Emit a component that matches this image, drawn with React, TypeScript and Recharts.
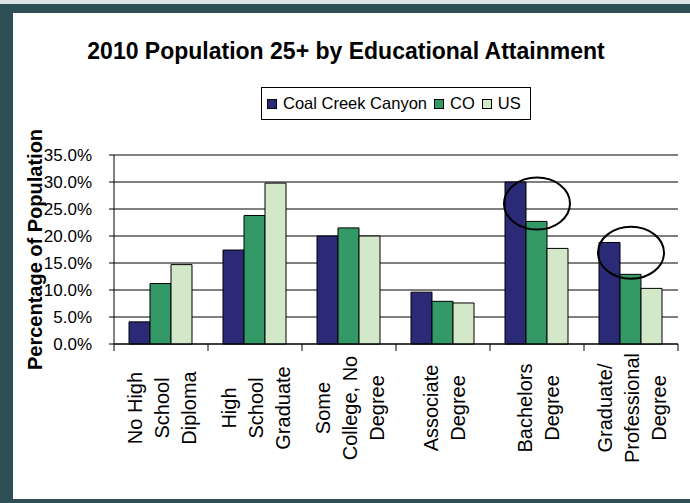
import React from 'react'
import { BarChart, Bar, XAxis, YAxis, CartesianGrid, Legend, ReferenceDot } from 'recharts'

const FONT = "'Liberation Sans', Arial, sans-serif"

const categories = [
  'No High School Diploma',
  'High School Graduate',
  'Some College, No Degree',
  'Associate Degree',
  'Bachelors Degree',
  'Graduate/ Professional Degree',
]
const categoryLines = [
  ['No High', 'School', 'Diploma'],
  ['High', 'School', 'Graduate'],
  ['Some', 'College, No', 'Degree'],
  ['Associate', 'Degree'],
  ['Bachelors', 'Degree'],
  ['Graduate/', 'Professional', 'Degree'],
]
const seriesNames = ['Coal Creek Canyon', 'CO', 'US']
const coalCreek = [4.1, 17.4, 20.0, 9.6, 30.0, 18.8]
const colorado = [11.2, 23.8, 21.5, 7.9, 22.7, 12.9]
const us = [14.7, 29.8, 20.0, 7.6, 17.7, 10.3]
const yTicks = [0, 5, 10, 15, 20, 25, 30, 35]
// circled bars
const highlightCategories = ['Bachelors Degree', 'Graduate/ Professional Degree']
const highlightValues = [26.0, 16.9]

const COLORS = ['#2a2a76', '#339966', '#d3e8c8']

function CategoryTick(props: any) {
  const { x, y, payload, index } = props
  const i = index ?? payload.index
  const half = payload?.offset || 47
  const lines = categoryLines[i] || [payload.value]
  const n = lines.length
  return (
    <g>
      <line x1={x - half} x2={x - half} y1={y} y2={y + 7} stroke="#000" />
      {i === categories.length - 1 && <line x1={x + half} x2={x + half} y1={y} y2={y + 7} stroke="#000" />}
      {lines.map((t, k) => {
        const bx = x + (k - (n - 1) / 2) * 27 + 8
        const cy = y + 64
        return (
          <text key={k} x={bx} y={cy} transform={`rotate(-90 ${bx} ${cy})`} textAnchor="middle"
            fontSize={20} fontFamily={FONT} fill="#000">{t}</text>
        )
      })}
    </g>
  )
}

function ValueTick(props: any) {
  const { x, y, payload } = props
  return (
    <text x={x} y={y} dy={6} textAnchor="end" fontSize={17} fontFamily={FONT} fill="#000">
      {`${Number(payload.value).toFixed(1)}%`}
    </text>
  )
}

function LegendBox({ payload }: any) {
  const items = [...(payload || [])].sort(
    (a: any, b: any) => seriesNames.indexOf(a.value) - seriesNames.indexOf(b.value))
  return (
    <div style={{
      display: 'flex', alignItems: 'center', height: 33, boxSizing: 'border-box', border: '1px solid #000',
      background: '#fff', paddingLeft: 5, fontFamily: FONT, fontSize: 16.5, color: '#000',
    }}>
      {items.map((p: any) => (
        <span key={p.value} style={{ display: 'flex', alignItems: 'center', marginRight: 7 }}>
          <span style={{ width: 10, height: 10, boxSizing: 'border-box', border: '1px solid #000', background: p.color, marginRight: 6 }} />
          <span>{p.value}</span>
        </span>
      ))}
    </div>
  )
}

const Ellipse = (p: any) => (
  <ellipse cx={p.cx} cy={p.cy} rx={33} ry={26} fill="none" stroke="#000" strokeWidth={2} />
)

export default function App() {
  const data = categories.map((name, i) => ({
    name,
    [seriesNames[0]]: coalCreek[i],
    [seriesNames[1]]: colorado[i],
    [seriesNames[2]]: us[i],
  }))
  const frame = '#2e4e56'

  return (
    <div style={{ position: 'absolute', left: 0, top: 0, width: 690, height: 503, background: '#fff', overflow: 'hidden', fontFamily: FONT }}>
      <BarChart width={690} height={503} data={data} margin={{ top: 155, right: 12, bottom: 4, left: 14 }}
        barCategoryGap={15} barGap={0}>
        <CartesianGrid vertical={false} stroke="#000" />
        <XAxis dataKey="name" interval={0} tickLine={false} tickSize={0} tickMargin={0} height={155}
          axisLine={{ stroke: '#000' }} tick={<CategoryTick />} />
        <YAxis domain={[0, 35]} ticks={yTicks} interval={0} width={100} tickSize={5} tickMargin={17}
          tick={<ValueTick />}
          axisLine={{ stroke: '#000' }} tickLine={{ stroke: '#000' }}
          label={{
            value: 'Percentage of Population', angle: -90, position: 'insideLeft', offset: 21,
            style: { textAnchor: 'middle', fontWeight: 700, fontSize: 20, fill: '#000', fontFamily: FONT },
          }} />
        <YAxis yAxisId="frame" orientation="right" domain={[0, 35]} width={0} tick={false} tickLine={false}
          axisLine={{ stroke: '#000' }} />
        <Legend verticalAlign="middle" align="center" layout="horizontal" content={<LegendBox />}
          wrapperStyle={{ left: 261, top: 87, width: 270, height: 33 }} />
        {seriesNames.map((s, i) => (
          <Bar key={s} dataKey={s} fill={COLORS[i]} stroke="#000" strokeWidth={1} isAnimationActive={false} />
        ))}
        {highlightCategories.map((c, i) => (
          <ReferenceDot key={c} x={c} y={highlightValues[i]} r={1} ifOverflow="visible" shape={Ellipse} />
        ))}
      </BarChart>
      <svg width={690} height={503} style={{ position: 'absolute', left: 0, top: 0, pointerEvents: 'none' }}>
        <text x={346} y={59} textAnchor="middle" fontSize={23} fontWeight={700} fontFamily={FONT} fill="#000">
          2010 Population 25+ by Educational Attainment
        </text>
      </svg>
      <div style={{ position: 'absolute', left: 0, top: 0, width: 690, height: 4, background: '#dfe4e4' }} />
      <div style={{ position: 'absolute', left: 0, top: 4, width: 690, height: 9, background: frame }} />
      <div style={{ position: 'absolute', left: 0, top: 4, width: 13, height: 499, background: frame }} />
      <div style={{ position: 'absolute', left: 0, top: 499, width: 690, height: 4, background: frame }} />
    </div>
  )
}
